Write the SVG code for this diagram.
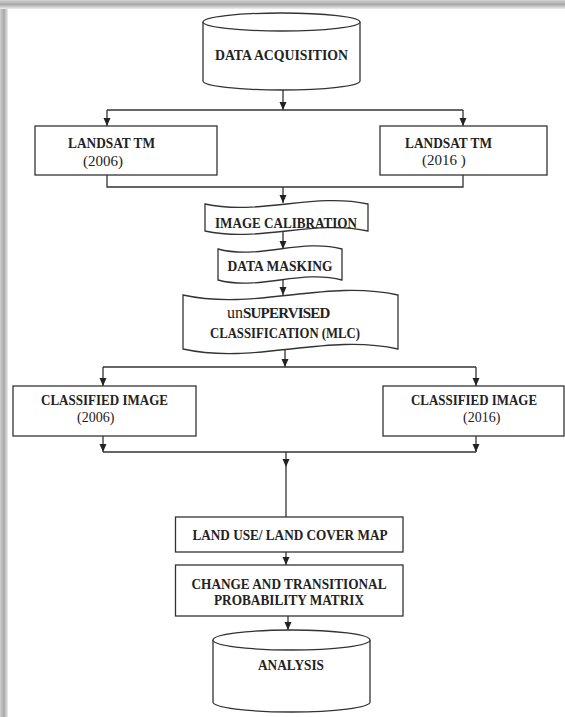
<svg xmlns="http://www.w3.org/2000/svg" width="565" height="717" viewBox="0 0 565 717">
<defs>
<linearGradient id="gTop" x1="0" y1="0" x2="0" y2="1">
<stop offset="0" stop-color="#d4d4d4"/>
<stop offset="0.5" stop-color="#a8a8a8"/>
<stop offset="1" stop-color="#eeeeee"/>
</linearGradient>
<linearGradient id="gLeft" x1="0" y1="0" x2="1" y2="0">
<stop offset="0" stop-color="#d0d0d0"/>
<stop offset="0.5" stop-color="#a8a8a8"/>
<stop offset="1" stop-color="#ececec"/>
</linearGradient>
<marker id="ah" markerUnits="userSpaceOnUse" markerWidth="8" markerHeight="8" refX="8" refY="4" orient="auto">
<path d="M0,0.5 L8,4 L0,7.5 z" fill="#222"/>
</marker>
<style>
.box{fill:#fff;stroke:#333;stroke-width:1.3}
.conn{fill:none;stroke:#333;stroke-width:1.3}
.t{font-family:"Liberation Serif","Times New Roman",serif;font-weight:bold;font-size:15px;fill:#222}
.n{font-weight:normal}
.yr{font-size:14px}
</style>
</defs>
<rect x="0" y="0" width="565" height="717" fill="#fff"/>
<rect x="0" y="0" width="8" height="717" fill="url(#gLeft)"/>
<rect x="0" y="0" width="565" height="9" fill="url(#gTop)"/>

<g id="connectors">
<path class="conn" d="M283,90 V110" marker-end="url(#ah)"/>
<path class="conn" d="M107,110 H463"/>
<path class="conn" d="M107,110 V126" marker-end="url(#ah)"/>
<path class="conn" d="M463,110 V126" marker-end="url(#ah)"/>
<path class="conn" d="M107,175 V187 H463 V175"/>
<path class="conn" d="M283,187 V203" marker-end="url(#ah)"/>
<path class="conn" d="M283,232 V249" marker-end="url(#ah)"/>
<path class="conn" d="M283,280 V295" marker-end="url(#ah)"/>
<path class="conn" d="M285,350 V367" marker-end="url(#ah)"/>
<path class="conn" d="M103,367 H476"/>
<path class="conn" d="M103,367 V386" marker-end="url(#ah)"/>
<path class="conn" d="M476,367 V386" marker-end="url(#ah)"/>
<path class="conn" d="M103,436 V452" marker-end="url(#ah)"/>
<path class="conn" d="M476,436 V452" marker-end="url(#ah)"/>
<path class="conn" d="M103,452 H476"/>
<path class="conn" d="M286,452 V467" marker-end="url(#ah)"/>
<path class="conn" d="M286,467 V517"/>
<path class="conn" d="M286,552 V565" marker-end="url(#ah)"/>
<path class="conn" d="M288,616 V630" marker-end="url(#ah)"/>
</g>

<g id="data-acquisition">
<path class="box" d="M203,22 V81 A78.5,9 0 0 0 360,81 V22"/>
<ellipse class="box" cx="281.5" cy="22" rx="78.5" ry="9"/>
<text class="t" x="281.5" y="60" text-anchor="middle" textLength="133" lengthAdjust="spacingAndGlyphs">DATA ACQUISITION</text>
</g>

<g id="landsat-2006">
<rect class="box" x="35" y="126" width="182" height="49"/>
<text class="t" x="68" y="148" textLength="87" lengthAdjust="spacingAndGlyphs">LANDSAT TM</text>
<text class="t n" x="83" y="166">(2006)</text>
</g>

<g id="landsat-2016">
<rect class="box" x="380" y="126" width="167" height="49"/>
<text class="t" x="405" y="148" textLength="87" lengthAdjust="spacingAndGlyphs">LANDSAT TM</text>
<text class="t n" x="422" y="165">(2016 )</text>
</g>

<g id="image-calibration">
<path class="box" d="M205,204 C259,216 314,192 368,204 L368,231 C314,219 259,243 205,231 Z"/>
<text class="t" x="286" y="228" text-anchor="middle" textLength="142" lengthAdjust="spacingAndGlyphs">IMAGE CALIBRATION</text>
</g>

<g id="data-masking">
<path class="box" d="M218,249 C259,260 301,238 342,249 L342,280 C301,269 259,291 218,280 Z"/>
<text class="t" x="280" y="271" text-anchor="middle" textLength="105" lengthAdjust="spacingAndGlyphs">DATA MASKING</text>
</g>

<g id="unsupervised-classification">
<path class="box" d="M183,295 C255,311 326,279 398,295 L398,349 C326,333 255,365 183,349 Z"/>
<text class="t" x="227" y="318"><tspan class="n" font-size="16">un</tspan><tspan letter-spacing="-0.8">SUPERVISED</tspan></text>
<text class="t" x="285" y="338" text-anchor="middle" textLength="150" lengthAdjust="spacingAndGlyphs">CLASSIFICATION (MLC)</text>
</g>

<g id="classified-2006">
<rect class="box" x="13" y="386" width="183" height="50"/>
<text class="t" x="41" y="405" textLength="127" lengthAdjust="spacingAndGlyphs">CLASSIFIED IMAGE</text>
<text class="t n yr" x="77" y="422">(2006)</text>
</g>

<g id="classified-2016">
<rect class="box" x="383" y="386" width="181" height="50"/>
<text class="t" x="411" y="405" textLength="126" lengthAdjust="spacingAndGlyphs">CLASSIFIED IMAGE</text>
<text class="t n yr" x="463" y="422">(2016)</text>
</g>

<g id="land-use-map">
<rect class="box" x="175.5" y="517" width="227.5" height="35"/>
<text class="t" x="290" y="540" text-anchor="middle" textLength="195" lengthAdjust="spacingAndGlyphs">LAND USE/ LAND COVER MAP</text>
</g>

<g id="change-matrix">
<rect class="box" x="175.5" y="565" width="227.5" height="51"/>
<text class="t" x="289" y="589" text-anchor="middle" textLength="195" lengthAdjust="spacingAndGlyphs">CHANGE AND TRANSITIONAL</text>
<text class="t" x="289" y="605" text-anchor="middle" textLength="150" lengthAdjust="spacingAndGlyphs">PROBABILITY MATRIX</text>
</g>

<g id="analysis">
<path class="box" d="M213,640 V702 A78.5,10 0 0 0 370,702 V640"/>
<ellipse class="box" cx="291.5" cy="640" rx="78.5" ry="10"/>
<text class="t" x="291" y="670" text-anchor="middle" textLength="66" lengthAdjust="spacingAndGlyphs">ANALYSIS</text>
</g>
</svg>
